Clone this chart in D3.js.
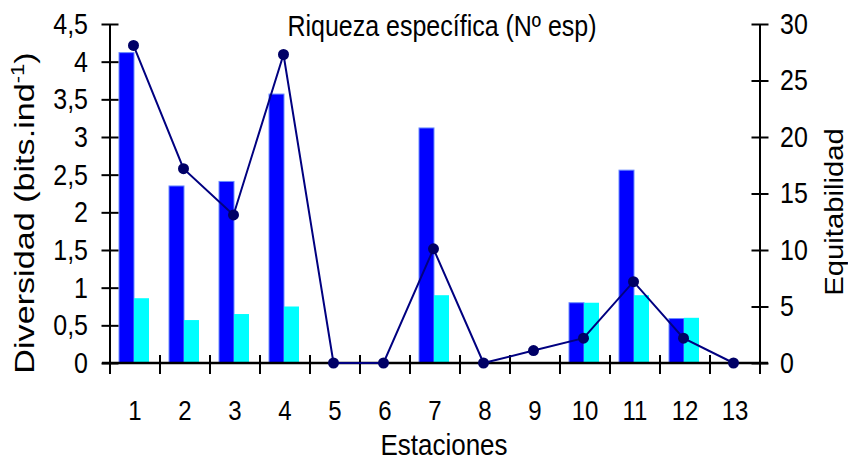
<!DOCTYPE html>
<html>
<head>
<meta charset="utf-8">
<script src="https://cdn.jsdelivr.net/npm/d3@7"></script>
<style>
  body { margin: 0; background: #fff; }
  text { font-family: 'Liberation Sans', Arial, sans-serif; fill: #000; }
</style>
</head>
<body>
<div id="chart"></div>
<script>
// Data
const estaciones = ['1', '2', '3', '4', '5', '6', '7', '8', '9', '10', '11', '12', '13'];
const diversidad = [4.12, 2.35, 2.41, 3.57, 0, 0, 3.12, 0, 0, 0.8, 2.56, 0.59, 0];
const equitabilidad = [0.86, 0.57, 0.65, 0.75, 0, 0, 0.9, 0, 0, 0.8, 0.9, 0.6, 0];
const riqueza = [28.1, 17.2, 13.1, 27.3, 0, 0, 10.1, 0, 1.1, 2.2, 7.2, 2.2, 0];
const leftTicks = [0, 0.5, 1, 1.5, 2, 2.5, 3, 3.5, 4, 4.5];
const rightTicks = [0, 5, 10, 15, 20, 25, 30];

const svgWidth = 848;
const svgHeight = 461;
const plotLeft = 110;
const plotRight = 760;
const plotTop = 24;
const plotBottom = 363;
const stretch = 1.17; // text in the original looks tall and narrow

const svg = d3
  .select('#chart')
  .append('svg')
  .attr('width', svgWidth)
  .attr('height', svgHeight);

// Scales
const x = d3.scaleBand().domain(estaciones).range([plotLeft, plotRight]);
const yL = d3.scaleLinear().domain([0, 4.5]).range([plotBottom, plotTop]);
const yR = d3.scaleLinear().domain([0, 30]).range([plotBottom, plotTop]);
const bw = x.bandwidth();

// Bars: diversidad (dark blue) and equitabilidad (cyan)
const divData = diversidad.map((v, i) => ({ v: v, c: estaciones[i] })).filter((d) => d.v > 0);
const eqData = equitabilidad.map((v, i) => ({ v: v, c: estaciones[i] })).filter((d) => d.v > 0);

svg
  .selectAll('.div')
  .data(divData)
  .enter()
  .append('rect')
  .attr('x', (d) => x(d.c) + bw * 0.18)
  .attr('y', (d) => yL(d.v))
  .attr('width', bw * 0.3)
  .attr('height', (d) => plotBottom - yL(d.v))
  .style('fill', '#0000ff')
  .style('stroke', '#6a8cff')
  .style('stroke-width', 1);

svg
  .selectAll('.eq')
  .data(eqData)
  .enter()
  .append('rect')
  .attr('x', (d) => x(d.c) + bw * 0.48)
  .attr('y', (d) => yL(d.v))
  .attr('width', bw * 0.3)
  .attr('height', (d) => plotBottom - yL(d.v))
  .style('fill', '#00ffff');

// Axes
const xAxis = svg
  .append('g')
  .attr('transform', 'translate(0,' + plotBottom + ')')
  .call(d3.axisBottom(x).tickSizeInner(0).tickSizeOuter(0));
xAxis.select('.domain').remove();
xAxis
  .selectAll('text')
  .attr('y', 0)
  .attr('dy', 57 / stretch)
  .attr('transform', 'scale(1,' + stretch + ')')
  .style('font-size', '24px');

// x tick marks on band boundaries
svg
  .selectAll('.xtick')
  .data(estaciones.concat(['end']))
  .enter()
  .append('line')
  .attr('x1', (d, i) => plotLeft + i * bw)
  .attr('x2', (d, i) => plotLeft + i * bw)
  .attr('y1', plotBottom - 8)
  .attr('y2', plotBottom + 11)
  .style('stroke', '#000')
  .style('stroke-width', 2);

svg
  .append('line')
  .attr('x1', plotLeft - 8)
  .attr('x2', plotRight + 8)
  .attr('y1', plotBottom)
  .attr('y2', plotBottom)
  .style('stroke', '#000')
  .style('stroke-width', 2.5);

const yAxisL = svg
  .append('g')
  .attr('transform', 'translate(' + plotLeft + ',0)')
  .call(
    d3
      .axisLeft(yL)
      .tickValues(leftTicks)
      .tickFormat((d) => String(d).replace('.', ','))
      .tickSizeOuter(0),
  );
const yAxisR = svg
  .append('g')
  .attr('transform', 'translate(' + plotRight + ',0)')
  .call(d3.axisRight(yR).tickValues(rightTicks).tickSizeOuter(0));

[yAxisL, yAxisR].forEach((g) => {
  g.select('.domain').style('stroke-width', 2).attr('d', 'M0,' + plotTop + 'V' + plotBottom);
  g.selectAll('.tick line')
    .attr('x1', -8.5)
    .attr('x2', 8.5)
    .style('stroke-width', 2);
  g.selectAll('text')
    .style('font-size', '25px')
    .attr('transform', 'scale(1,' + stretch + ')');
});
yAxisL.selectAll('text').attr('x', -22);
yAxisR.selectAll('text').attr('x', 20);

// Riqueza line with markers
const line = d3
  .line()
  .x((d, i) => x(estaciones[i]) + bw / 2 - 1.5)
  .y((d) => yR(d));

svg
  .append('path')
  .datum(riqueza)
  .attr('d', line)
  .style('fill', 'none')
  .style('stroke', '#000080')
  .style('stroke-width', 2);

svg
  .selectAll('.pt')
  .data(riqueza)
  .enter()
  .append('circle')
  .attr('cx', (d, i) => x(estaciones[i]) + bw / 2 - 1.5)
  .attr('cy', (d) => yR(d))
  .attr('r', 5.5)
  .style('fill', '#000066');

// Titles
svg
  .append('text')
  .attr('transform', 'translate(442,36) scale(1,' + stretch + ')')
  .attr('text-anchor', 'middle')
  .style('font-size', '25px')
  .text('Riqueza específica (Nº esp)');

svg
  .append('text')
  .attr('transform', 'translate(444,455) scale(1,' + stretch + ')')
  .attr('text-anchor', 'middle')
  .style('font-size', '26px')
  .text('Estaciones');

const yTitle = svg
  .append('text')
  .attr('transform', 'translate(34,213) scale(1,1.22) rotate(-90)')
  .attr('text-anchor', 'middle')
  .style('font-size', '28px');
yTitle.append('tspan').text('Diversidad (bits.ind');
yTitle.append('tspan').attr('dy', -10).style('font-size', '18px').text('-1');
yTitle.append('tspan').attr('dy', 10).text(')');

svg
  .append('text')
  .attr('transform', 'translate(843,212) scale(1,' + stretch + ') rotate(-90)')
  .attr('text-anchor', 'middle')
  .style('font-size', '25px')
  .text('Equitabilidad');
</script>
</body>
</html>
